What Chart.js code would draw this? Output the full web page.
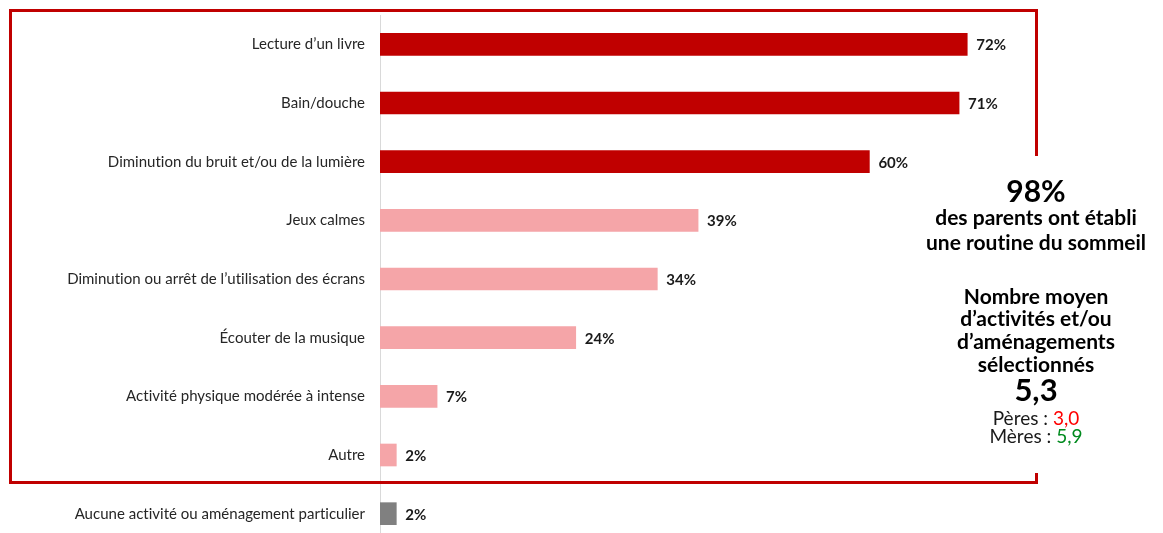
<!DOCTYPE html>
<html>
<head>
<meta charset="utf-8">
<script src="https://cdn.jsdelivr.net/npm/chart.js@4.4.0/dist/chart.umd.min.js"></script>
<style>
  html, body { margin: 0; padding: 0; background: #fff; overflow: hidden; }
  canvas { display: block; }
</style>
</head>
<body>
<canvas id="c" width="1163" height="543"></canvas>
<script>
const categories = [
  "Lecture d\u2019un livre",
  "Bain/douche",
  "Diminution du bruit et/ou de la lumi\u00e8re",
  "Jeux calmes",
  "Diminution ou arr\u00eat de l\u2019utilisation des \u00e9crans",
  "\u00c9couter de la musique",
  "Activit\u00e9 physique mod\u00e9r\u00e9e \u00e0 intense",
  "Autre",
  "Aucune activit\u00e9 ou am\u00e9nagement particulier"
];
const values = [72, 71, 60, 39, 34, 24, 7, 2, 2];
const barColors = ["#C00000", "#C00000", "#C00000", "#F5A5A8", "#F5A5A8", "#F5A5A8", "#F5A5A8", "#F5A5A8", "#808080"];
const sideHeadline = "98%";
const sideHeadlineText = ["des parents ont \u00e9tabli", "une routine du sommeil"];
const sideAvgText = ["Nombre moyen", "d\u2019activit\u00e9s et/ou", "d\u2019am\u00e9nagements", "s\u00e9lectionn\u00e9s"];
const sideAvgValue = "5,3";
const fathersLabel = "P\u00e8res : ", fathersValue = "3,0";
const mothersLabel = "M\u00e8res : ", mothersValue = "5,9";

const FONT = "Lato, 'Open Sans', sans-serif";

const noLigatures = {
  id: 'noLigatures',
  beforeDraw(chart) { chart.ctx.letterSpacing = '0.01px'; }
};

const valueLabels = {
  id: 'valueLabels',
  afterDatasetsDraw(chart) {
    const ctx = chart.ctx;
    const meta = chart.getDatasetMeta(0);
    ctx.save();
    ctx.font = "bold 15px " + FONT;
    ctx.fillStyle = "#1a1a1a";
    ctx.textBaseline = "middle";
    ctx.textAlign = "left";
    meta.data.forEach((bar, i) => {
      ctx.fillText(values[i] + "%", bar.x + 9, bar.y + 1);
    });
    ctx.restore();
  }
};

const frameAndSide = {
  id: 'frameAndSide',
  afterDraw(chart) {
    const ctx = chart.ctx;
    ctx.save();
    ctx.strokeStyle = "#C00000";
    ctx.lineWidth = 3;
    ctx.strokeRect(10.5, 10.5, 1026, 472);
    ctx.fillStyle = "#ffffff";
    ctx.fillRect(1000, 156, 80, 317);
    const cx = 1036;
    ctx.textAlign = "center";
    ctx.textBaseline = "middle";
    ctx.fillStyle = "#000000";
    ctx.font = "bold 30px " + FONT;
    ctx.fillText(sideHeadline, cx, 192);
    ctx.font = "bold 21px " + FONT;
    ctx.fillText(sideHeadlineText[0], cx, 218);
    ctx.fillText(sideHeadlineText[1], cx, 243);
    sideAvgText.forEach((t, i) => ctx.fillText(t, cx, 297 + i * 22.7));
    ctx.font = "bold 31px " + FONT;
    ctx.fillText(sideAvgValue, cx, 391);
    ctx.font = "19px " + FONT;
    const drawPair = (lab, val, col, y) => {
      const w1 = ctx.measureText(lab).width, w2 = ctx.measureText(val).width;
      const x0 = cx - (w1 + w2) / 2;
      ctx.textAlign = "left";
      ctx.fillStyle = "#1a1a1a";
      ctx.fillText(lab, x0, y);
      ctx.fillStyle = col;
      ctx.fillText(val, x0 + w1, y);
    };
    drawPair(fathersLabel, fathersValue, "#FF0000", 419);
    drawPair(mothersLabel, mothersValue, "#008A1E", 437);
    ctx.restore();
  }
};

new Chart(document.getElementById('c'), {
  type: 'bar',
  data: {
    labels: categories,
    datasets: [{
      data: values,
      backgroundColor: barColors,
      borderWidth: 0,
      barThickness: 22
    }]
  },
  options: {
    indexAxis: 'y',
    responsive: false,
    animation: false,
    layout: { padding: { top: 15, bottom: 0, left: 0, right: 0 } },
    plugins: { legend: { display: false }, tooltip: { enabled: false } },
    scales: {
      x: { display: false, min: 0, max: 96 },
      y: {
        grid: { display: false, drawTicks: false },
        border: { display: true, color: "#d9d9d9", width: 1 },
        ticks: { color: "#262626", font: { family: FONT, size: 15 }, padding: 15 },
        afterFit(scale) { scale.width = 380; scale.paddingTop = 0; scale.paddingBottom = 0; }
      }
    }
  },
  plugins: [noLigatures, valueLabels, frameAndSide]
});
</script>
</body>
</html>
